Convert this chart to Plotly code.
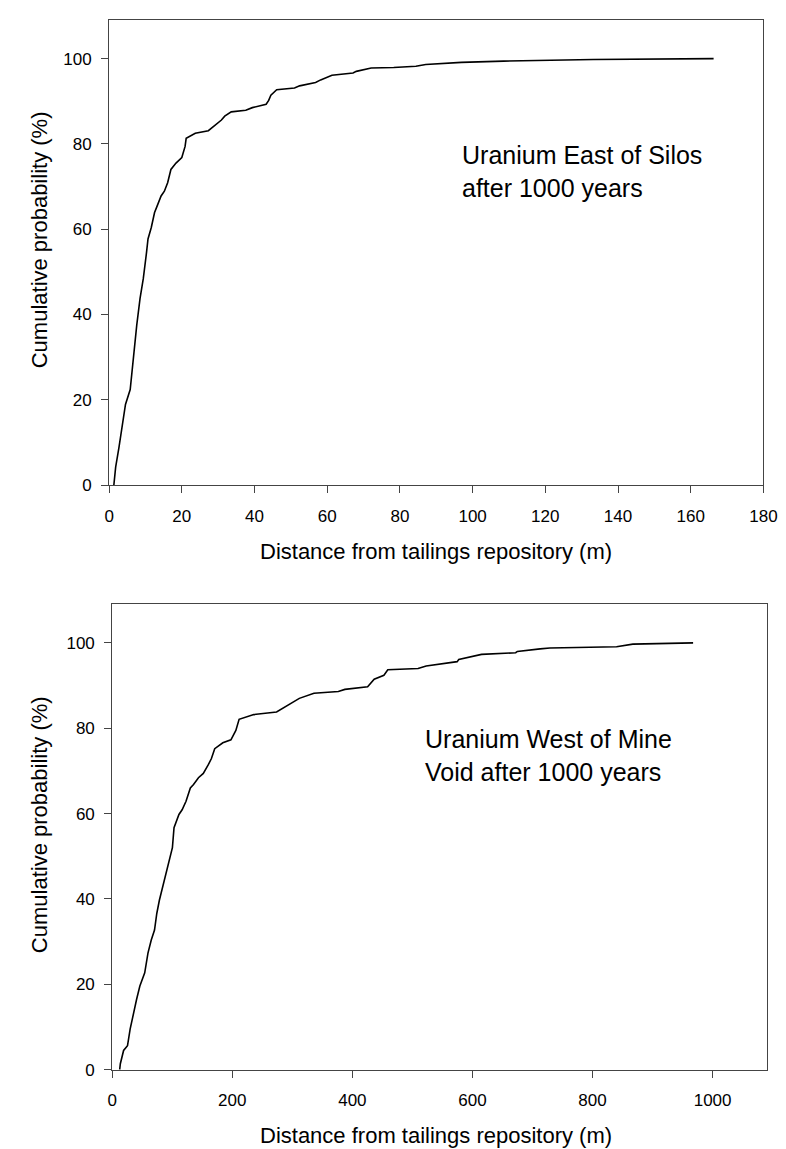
import plotly.graph_objects as go

# ---- Data: Uranium East of Silos after 1000 years ----
east_distance = [1.3, 1.8, 2.7, 3.6, 4.5, 5.8, 6.7, 7.6, 8.5, 9.4, 10.3, 10.7, 11.6, 12.5,
                 13.2, 14.3, 15.2, 16.1, 17.0, 18.4, 20.0, 20.9, 21.2, 22.4, 23.7, 27.3,
                 28.6, 30.9, 31.8, 33.6, 37.6, 39.4, 43.2, 43.9, 44.5, 46.1, 51.0, 52.4,
                 56.8, 58.2, 61.3, 67.1, 68.0, 72.1, 78.3, 84.4, 87.1, 96.9, 108.5, 133.2,
                 166.3]
east_cumprob = [0.0, 4.2, 8.8, 13.5, 18.9, 22.4, 30.5, 37.5, 43.7, 48.4, 54.6, 57.7, 60.4,
                63.9, 65.4, 67.8, 68.9, 70.9, 74.0, 75.5, 76.8, 79.4, 81.3, 81.9, 82.5, 83.1,
                84.0, 85.6, 86.5, 87.5, 87.9, 88.5, 89.3, 90.2, 91.4, 92.7, 93.1, 93.6,
                94.4, 95.0, 96.1, 96.6, 97.0, 97.8, 97.9, 98.2, 98.6, 99.1, 99.4, 99.8,
                100.0]

# ---- Data: Uranium West of Mine Void after 1000 years ----
west_distance = [12.4, 13.5, 18.9, 25.4, 29.8, 35.2, 40.6, 46.0, 54.1, 59.5, 65.0, 70.4,
                 74.2, 78.5, 83.9, 89.4, 94.8, 100.2, 102.9, 111.1, 116.4, 122.9, 130.1,
                 135.4, 143.6, 151.7, 159.8, 165.2, 170.7, 184.2, 197.7, 205.9, 211.3,
                 224.9, 235.8, 273.7, 289.9, 311.6, 336.0, 376.6, 387.5, 425.4, 436.3,
                 452.5, 459.0, 509.4, 522.9, 574.5, 577.2, 604.2, 615.1, 672.0, 674.8,
                 712.7, 729.0, 840.0, 867.2, 967.5]
west_cumprob = [0.0, 1.4, 4.5, 5.6, 9.5, 13.4, 16.5, 19.6, 22.7, 27.3, 30.4, 32.7, 36.6,
                39.7, 42.8, 45.9, 49.3, 52.0, 56.7, 59.8, 60.9, 62.9, 66.0, 66.8, 68.4,
                69.4, 71.4, 72.9, 75.2, 76.6, 77.3, 79.5, 82.1, 82.8, 83.2, 83.8, 85.2,
                87.0, 88.2, 88.6, 89.1, 89.7, 91.5, 92.4, 93.7, 94.0, 94.6, 95.6, 96.1,
                96.9, 97.3, 97.7, 98.0, 98.6, 98.8, 99.1, 99.7, 100.0]

y_ticks = [0, 20, 40, 60, 80, 100]
east_x_ticks = [0, 20, 40, 60, 80, 100, 120, 140, 160, 180]
west_x_ticks = [0, 200, 400, 600, 800, 1000]

x_title = "Distance from tailings repository (m)"
y_title = "Cumulative probability (%)"
east_label = "Uranium East of Silos<br>after 1000 years"
west_label = "Uranium West of Mine<br>Void after 1000 years"

W, H = 786, 1149
FONT = "Liberation Sans, Arial, sans-serif"


def px_x(x):
    return x / W


def px_y(y):
    return (H - y) / H


fig = go.Figure()
fig.add_trace(go.Scatter(x=east_distance, y=east_cumprob, mode="lines",
                         line=dict(color="black", width=1.6),
                         xaxis="x", yaxis="y", showlegend=False))
fig.add_trace(go.Scatter(x=west_distance, y=west_cumprob, mode="lines",
                         line=dict(color="black", width=1.6),
                         xaxis="x2", yaxis="y2", showlegend=False))

axis_common = dict(showgrid=False, zeroline=False, showline=True, linecolor="#444444",
                   linewidth=1, mirror=True, ticks="outside", ticklen=7, tickwidth=1,
                   tickcolor="#444444", tickfont=dict(family=FONT, size=17, color="black"))

fig.update_layout(
    width=W, height=H,
    margin=dict(l=0, r=0, t=0, b=0),
    plot_bgcolor="white", paper_bgcolor="white",
    font=dict(family=FONT, color="black"),
    xaxis=dict(domain=[px_x(98.5), px_x(769)], range=[0, 180], tickvals=east_x_ticks,
               anchor="y", ticklabelstandoff=8, **axis_common),
    yaxis=dict(domain=[px_y(481.3), px_y(12.3)], range=[0, 109], tickvals=y_ticks,
               anchor="x", ticklabelstandoff=6, **axis_common),
    xaxis2=dict(domain=[px_x(101.7), px_x(772.3)], range=[0, 1090], tickvals=west_x_ticks,
                anchor="y2", ticklabelstandoff=8, **axis_common),
    yaxis2=dict(domain=[px_y(1071), px_y(601.7)], range=[0, 109], tickvals=y_ticks,
                anchor="x2", ticklabelstandoff=6, **axis_common),
)

ann = []
# axis titles
for ty in (548, 1137):
    ann.append(dict(text=x_title, x=px_x(433), y=px_y(ty), xref="paper", yref="paper",
                    showarrow=False, xanchor="center", yanchor="middle",
                    font=dict(family=FONT, size=22, color="black")))
for ty in (234, 824):
    ann.append(dict(text=y_title, x=px_x(28), y=px_y(ty), xref="paper", yref="paper",
                    showarrow=False, xanchor="center", yanchor="middle", textangle=-90,
                    font=dict(family=FONT, size=22, color="black")))
# panel labels
ann.append(dict(text=east_label, x=px_x(458), y=px_y(165), xref="paper", yref="paper",
                showarrow=False, xanchor="left", yanchor="middle", align="left",
                font=dict(family=FONT, size=25, color="black")))
ann.append(dict(text=west_label, x=px_x(420), y=px_y(754), xref="paper", yref="paper",
                showarrow=False, xanchor="left", yanchor="middle", align="left",
                font=dict(family=FONT, size=25, color="black")))
fig.update_layout(annotations=ann)

fig.write_html("out.html")
